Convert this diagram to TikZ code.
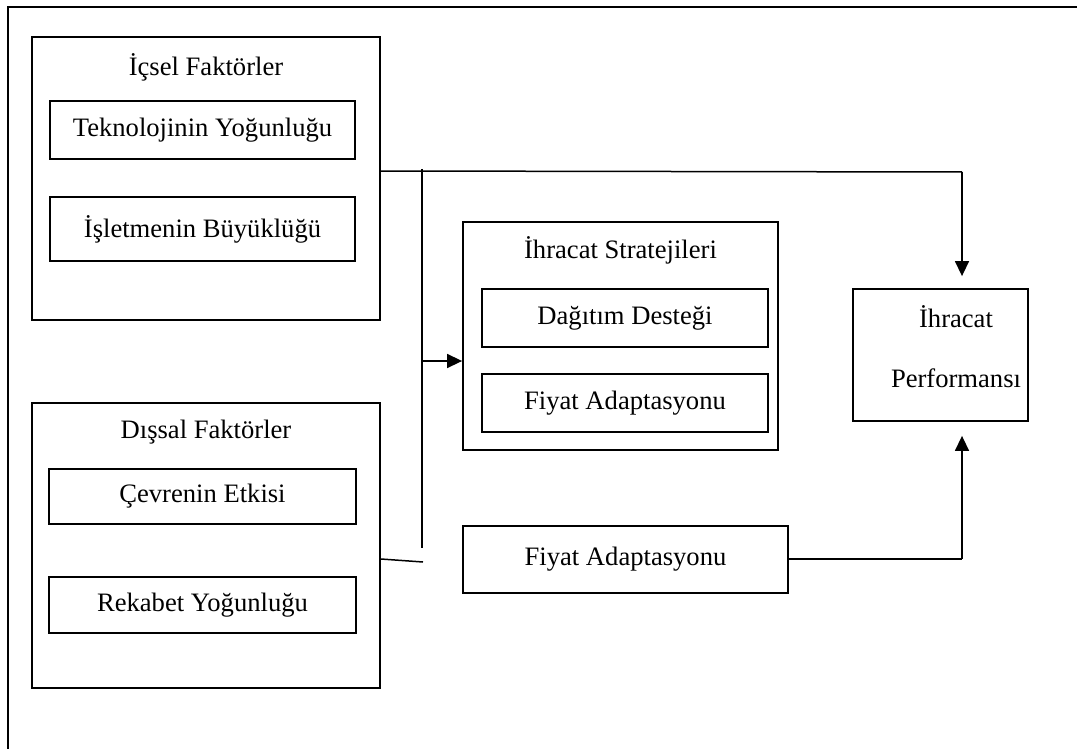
\documentclass[tikz,border=0pt]{standalone}
\usepackage{fontspec}
\setmainfont{Liberation Serif}
\usetikzlibrary{arrows.meta}
\tikzset{
  box/.style={draw, line width=1.8pt, inner sep=0pt, rectangle, align=center},
  conn/.style={line width=1.5pt},
  arr/.style={conn, -{Triangle[length=15pt,width=14pt]}},
  lbl/.style={inner sep=0pt, anchor=center}
}
\begin{document}
\begin{tikzpicture}[x=1pt,y=-1pt,font=\fontsize{26.6}{32}\selectfont]
\useasboundingbox (0,0) rectangle (1077,749);
% outer frame (top and left only visible)
\draw[line width=2.4pt] (8,749) -- (8,7) -- (1077,7);

% Icsel Faktorler
\node[box, minimum width=348pt, minimum height=283pt] (icsel) at (206,178.5) {};
\node[lbl] (icselt) at (206,67) {İçsel Faktörler};
\node[box, minimum width=305pt, minimum height=58pt] (tek) at (202.5,130) {Teknolojinin Yoğunluğu};
\node[box, minimum width=305pt, minimum height=64pt] (isl) at (202.5,229) {İşletmenin Büyüklüğü};

% Dissal Faktorler
\node[box, minimum width=348pt, minimum height=285pt] (dis) at (206,545.5) {};
\node[lbl] (dist) at (206,432) {Dışsal Faktörler};
\node[box, minimum width=307pt, minimum height=55pt] (cev) at (202.5,496.5) {Çevrenin Etkisi};
\node[box, minimum width=307pt, minimum height=56pt] (rek) at (202.5,605) {Rekabet Yoğunluğu};

% Ihracat Stratejileri
\node[box, minimum width=315pt, minimum height=228pt] (str) at (620.5,336) {};
\node[lbl] (strt) at (620.5,250) {İhracat Stratejileri};
\node[box, minimum width=286pt, minimum height=58pt] (dag) at (625,318) {Dağıtım Desteği};
\node[box, minimum width=286pt, minimum height=58pt] (fiy1) at (625,403) {Fiyat Adaptasyonu};

% lower Fiyat Adaptasyonu
\node[box, minimum width=325pt, minimum height=67pt] (fiy2) at (625.5,559.5) {Fiyat Adaptasyonu};

% Ihracat Performansi
\node[box, minimum width=175pt, minimum height=132pt] (perf) at (940.5,355) {};
\node[lbl] (perf1) at (956,317) {İhracat};
\node[lbl] (perf2) at (956,378) {Performansı};

% connectors
\coordinate (vtop) at (422,169);
\coordinate (vbot) at (422,548);
\coordinate (vmid) at (422,361);
\coordinate (hstart) at (380,171);
\coordinate (corner1) at (962,172);
\coordinate (dend) at (423,562);
\coordinate (corner2) at (962,559);

\draw[conn] (vtop) -- (vbot);
\draw[conn] (hstart) -- (corner1);
\draw[arr, shorten >=12pt] (corner1) -- (corner1 |- perf.north);
\draw[arr] (vmid) -- (vmid -| str.west);
\draw[conn] (dis.east |- 0,559) -- (dend);
\draw[conn] (fiy2.east |- corner2) -- (corner2);
\draw[arr, shorten >=14pt] (corner2) -- (corner2 |- perf.south);
\end{tikzpicture}
\end{document}
